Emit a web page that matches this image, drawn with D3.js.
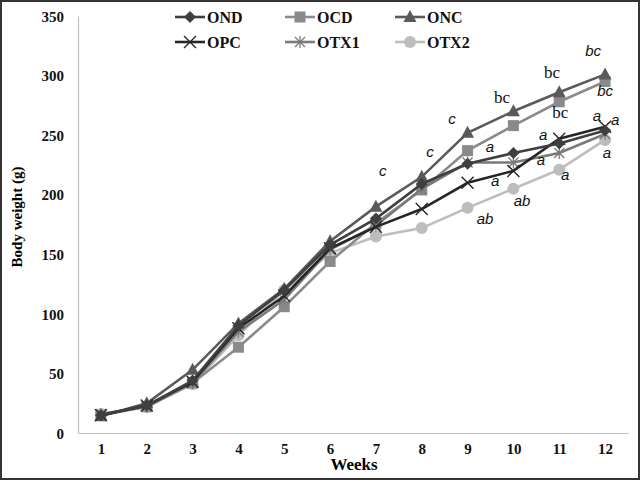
<!DOCTYPE html>
<html>
<head>
<meta charset="utf-8">
<script src="https://cdn.jsdelivr.net/npm/d3@7"></script>
<style>
  body { margin: 0; background: #fff; }
  svg { display: block; }
</style>
</head>
<body>
<div id="chart"></div>
<script>
// Chart size.
const WIDTH = 640;
const HEIGHT = 480;

// Data.
const weeks = [1, 2, 3, 4, 5, 6, 7, 8, 9, 10, 11, 12];
const yTicks = [0, 50, 100, 150, 200, 250, 300, 350];
const seriesNames = ["OND", "OCD", "ONC", "OPC", "OTX1", "OTX2"];
const ond = [15, 23, 44, 90, 120, 158, 180, 209, 226, 235, 243, 254];
const ocd = [15, 22, 42, 72, 106, 144, 176, 204, 237, 258, 278, 295];
const onc = [14, 25, 53, 92, 121, 161, 190, 215, 252, 270, 286, 301];
const opc = [15, 23, 43, 88, 115, 155, 173, 188, 210, 220, 247, 257];
const otx1 = [16, 22, 42, 85, 112, 154, 174, 205, 227, 227, 235, 251];
const otx2 = [16, 22, 41, 82, 120, 151, 165, 172, 189, 205, 221, 246];

// Significance letters: [week position, value position, text, italic]
const notes = [
  [7.15, 220, "c", true],
  [8.18, 236, "c", true],
  [8.66, 264, "c", true],
  [9.75, 282, "bc", false],
  [10.84, 303, "bc", false],
  [11.74, 321, "bc", true],
  [12.0, 287, "bc", true],
  [11.02, 269, "bc", false],
  [11.82, 266, "a", true],
  [12.22, 263, "a", true],
  [10.65, 250, "a", true],
  [9.49, 240, "a", true],
  [10.6, 229, "a", true],
  [9.6, 212, "a", true],
  [11.13, 217, "a", true],
  [12.04, 235, "a", true],
  [10.19, 195, "ab", true],
  [9.38, 180, "ab", true],
];

const STYLE = {
  OND: { color: "#3f3f3f", shape: "diamond" },
  OCD: { color: "#8a8a8a", shape: "square" },
  ONC: { color: "#5a5a5a", shape: "triangle" },
  OPC: { color: "#262626", shape: "x" },
  OTX1: { color: "#7a7a7a", shape: "star" },
  OTX2: { color: "#bdbdbd", shape: "circle" },
};

const values = [ond, ocd, onc, opc, otx1, otx2];
const series = seriesNames.map((name, i) => ({
  name: name,
  points: weeks.map((w, j) => ({ week: w, value: values[i][j] })),
}));

const SERIF = "'Liberation Serif', 'Times New Roman', serif";
const SANS = "'Liberation Sans', Arial, sans-serif";

const M = { left: 78, right: 12, top: 16, bottom: 47 };

const svg = d3
  .select("#chart")
  .append("svg")
  .attr("width", WIDTH)
  .attr("height", HEIGHT);

// Outer frame.
svg.append("rect")
  .attr("x", 1).attr("y", 1)
  .attr("width", WIDTH - 2).attr("height", HEIGHT - 2)
  .attr("fill", "#fff")
  .attr("stroke", "#333")
  .attr("stroke-width", 2);

const x = d3.scaleLinear().domain([0.5, 12.5]).range([M.left, WIDTH - M.right]);
const y = d3.scaleLinear().domain([0, 350]).range([HEIGHT - M.bottom, M.top]);

// Axes (no tick marks, light grey lines).
const xAxis = svg.append("g")
  .attr("transform", "translate(0," + y(0) + ")")
  .call(d3.axisBottom(x).tickValues(weeks).tickSize(0).tickPadding(10).tickFormat(d3.format("d")));
const yAxis = svg.append("g")
  .attr("transform", "translate(" + M.left + ",0)")
  .call(d3.axisLeft(y).tickValues(yTicks).tickSize(0).tickPadding(14));

[xAxis, yAxis].forEach((a) => {
  a.select(".domain").attr("stroke", "#bfbfbf").attr("stroke-width", 1.2);
  a.selectAll("text")
    .style("font-family", SERIF)
    .style("font-weight", "bold")
    .style("font-size", "15px")
    .attr("fill", "#111");
});
yAxis.selectAll("text").attr("dy", "0.35em");

// Axis titles.
svg.append("text")
  .attr("x", (x(0.5) + x(12.5)) / 2 + 1)
  .attr("y", 470)
  .attr("text-anchor", "middle")
  .style("font-family", SERIF)
  .style("font-weight", "bold")
  .style("font-size", "17px")
  .text("Weeks");

svg.append("text")
  .attr("transform", "translate(22,217) rotate(-90)")
  .attr("text-anchor", "middle")
  .style("font-family", SERIF)
  .style("font-weight", "bold")
  .style("font-size", "15px")
  .text("Body weight (g)");

// Marker drawing.
function drawMarker(g, shape, color) {
  if (shape === "diamond") {
    g.append("path").attr("d", "M0,-6L6,0L0,6L-6,0Z").attr("fill", color);
  } else if (shape === "square") {
    g.append("rect").attr("x", -5.5).attr("y", -5.5).attr("width", 11).attr("height", 11).attr("fill", color);
  } else if (shape === "triangle") {
    g.append("path").attr("d", "M0,-7L6.5,5L-6.5,5Z").attr("fill", color);
  } else if (shape === "x") {
    g.append("path").attr("d", "M-6,-6L6,6M-6,6L6,-6").attr("stroke", color).attr("stroke-width", 1.4);
  } else if (shape === "star") {
    g.append("path")
      .attr("d", "M-5,-5L5,5M-5,5L5,-5M0,-6L0,6")
      .attr("stroke", color).attr("stroke-width", 1.3);
  } else if (shape === "circle") {
    g.append("circle").attr("r", 6).attr("fill", color);
  }
}

const line = d3.line().x((d) => x(d.week)).y((d) => y(d.value));

// Draw lighter series first so darker ones sit on top.
const order = ["OTX2", "OCD", "OTX1", "ONC", "OPC", "OND"];
order.forEach((name) => {
  const s = series.find((d) => d.name === name);
  const st = STYLE[name];
  const g = svg.append("g");
  g.append("path")
    .datum(s.points)
    .attr("d", line)
    .attr("fill", "none")
    .attr("stroke", st.color)
    .attr("stroke-width", 2.6);
  g.selectAll("g.pt")
    .data(s.points)
    .enter()
    .append("g")
    .attr("transform", (d) => "translate(" + x(d.week) + "," + y(d.value) + ")")
    .each(function () {
      drawMarker(d3.select(this), st.shape, st.color);
    });
});

// Significance letters.
svg.selectAll("text.note")
  .data(notes)
  .enter()
  .append("text")
  .attr("x", (d) => x(d[0]))
  .attr("y", (d) => y(d[1]))
  .attr("dy", "0.35em")
  .attr("text-anchor", "middle")
  .style("font-family", (d) => (d[3] ? SANS : SERIF))
  .style("font-style", (d) => (d[3] ? "italic" : "normal"))
  .style("font-size", (d) => (d[3] ? "15px" : "17px"))
  .attr("fill", "#111")
  .text((d) => d[2]);

// Legend.
const legend = svg.append("g");
const li = { x0: 175, dx: 110, y0: 17, dy: 25, w: 30 };
seriesNames.forEach((name, i) => {
  const st = STYLE[name];
  const col = i % 3;
  const row = Math.floor(i / 3);
  const g = legend.append("g")
    .attr("transform", "translate(" + (li.x0 + col * li.dx) + "," + (li.y0 + row * li.dy) + ")");
  g.append("line")
    .attr("x1", 0).attr("x2", li.w)
    .attr("stroke", st.color).attr("stroke-width", 2.6);
  drawMarker(g.append("g").attr("transform", "translate(" + li.w / 2 + ",0)"), st.shape, st.color);
  g.append("text")
    .attr("x", li.w + 2)
    .attr("dy", "0.35em")
    .style("font-family", SERIF)
    .style("font-weight", "bold")
    .style("font-size", "16px")
    .attr("fill", "#111")
    .text(name);
});
</script>
</body>
</html>
